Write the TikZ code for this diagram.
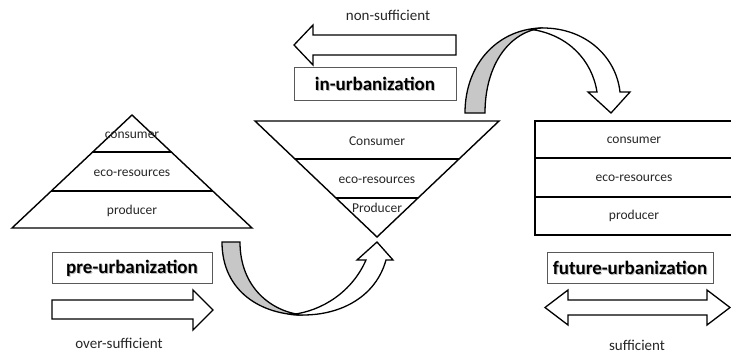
\documentclass[tikz,border=0pt]{standalone}
\usepackage{fontspec}
\setmainfont{Carlito}
\begin{document}
\begin{tikzpicture}[x=1pt,y=-1pt,
  shapeline/.style={draw=black,line width=1.4pt,line join=miter},
  lbl/.style={font=\fontsize{13.5}{15}\selectfont,text=black!85,inner sep=0pt},
  captxt/.style={font=\fontsize{15}{17}\selectfont,text=black!85,inner sep=0pt},
  titlebox/.style={draw=black!65,line width=0.9pt,fill=white,inner sep=0pt},
  titletext/.style={font=\bfseries\fontsize{19}{22}\selectfont,inner sep=0pt},
  blockarrow/.style={draw=black,line width=1.3pt,fill=white,line join=miter},
  grayarrow/.style={draw=black,line width=1.3pt,fill=black!22,line join=miter}]
\useasboundingbox (0,0) rectangle (731,354);

% ---------- left pyramid ----------
\coordinate (LA) at (132,115);
\coordinate (LL) at (12,228);
\coordinate (LR) at (252,228);
\draw[shapeline] (LA) -- (LL) -- (LR) -- cycle;
\draw[shapeline] (92.7,152) -- (171.3,152);
\draw[shapeline] (51.3,191) -- (212.7,191);
\node[lbl] (lcons) at (132,135) {consumer};
\node[lbl] (leco) at (132,173) {eco-resources};
\node[lbl] (lprod) at (132,211) {producer};

% ---------- inverted pyramid ----------
\coordinate (IL) at (255,121);
\coordinate (IR) at (499,121);
\coordinate (IA) at (377,237);
\draw[shapeline] (IL) -- (IR) -- (IA) -- cycle;
\draw[shapeline] (295,159) -- (459,159);
\draw[shapeline] (336,198) -- (418,198);
\node[lbl] (icons) at (377,141) {Consumer};
\node[lbl] (ieco) at (377,180) {eco-resources};
\node[lbl] (iprod) at (377,208) {Producer};

% ---------- right stack ----------
\draw[shapeline] (535,121) rectangle (738,235);
\draw[shapeline] (535,158) -- (738,158);
\draw[shapeline] (535,197) -- (738,197);
\node[lbl] (rcons) at (634,140) {consumer};
\node[lbl] (reco) at (634,178) {eco-resources};
\node[lbl] (rprod) at (634,216) {producer};

% ---------- title boxes ----------
\draw[titlebox] (52,252) rectangle (212,283);
\node[titletext,text=black!25] at (133,269) {pre-urbanization};
\node[titletext] (pre) at (132,268) {pre-urbanization};
\draw[titlebox] (294,67) rectangle (456,100);
\node[titletext,text=black!25] at (376,85) {in-urbanization};
\node[titletext] (inu) at (375,84) {in-urbanization};
\draw[titlebox] (547,252) rectangle (713,283);
\node[titletext,text=black!25] at (631,269) {future-urbanization};
\node[titletext] (fut) at (630,268) {future-urbanization};

% ---------- straight block arrows ----------
\draw[blockarrow] (52,300) -- (193,300) -- (193,290) -- (213,310) -- (193,330) -- (193,319) -- (52,319) -- cycle;
\node[captxt] (over) at (119,343) {over-sufficient};

\draw[blockarrow] (456,35) -- (313,35) -- (313,25) -- (294,45) -- (313,65) -- (313,55) -- (456,55) -- cycle;
\node[captxt] (non) at (388,15) {non-sufficient};

\draw[blockarrow] (568,300) -- (707,300) -- (707,290) -- (730,307.5) -- (707,325) -- (707,315) -- (568,315) -- (568,325) -- (545,307.5) -- (568,290) -- cycle;
\node[captxt] (suff) at (637,345) {sufficient};

% ---------- lower curved arrow ----------
\draw[grayarrow] (222,242) .. controls (222,292) and (262,315) .. (303,315)
   .. controls (272,312) and (240,288) .. (240,242) -- cycle;
\draw[blockarrow] (303,315) .. controls (342,315) and (376,296) .. (386,260)
   -- (393,260) -- (377,242) -- (357,260) -- (366,260)
   .. controls (352,292) and (322,311) .. (292,314.5)
   .. controls (296,315) and (299,315) .. (303,315) -- cycle;

% ---------- upper curved arrow ----------
\draw[grayarrow] (465,113) .. controls (465,62) and (500,28) .. (543,28)
   .. controls (510,31) and (485,64) .. (485,113) -- cycle;
\draw[blockarrow] (543,28) .. controls (585,28) and (616,56) .. (620,92)
   -- (630,92) -- (611,113) -- (588,92) -- (597,92)
   .. controls (592,60) and (568,35) .. (532,29.5)
   .. controls (536,28.5) and (540,28) .. (543,28) -- cycle;
\end{tikzpicture}
\end{document}
